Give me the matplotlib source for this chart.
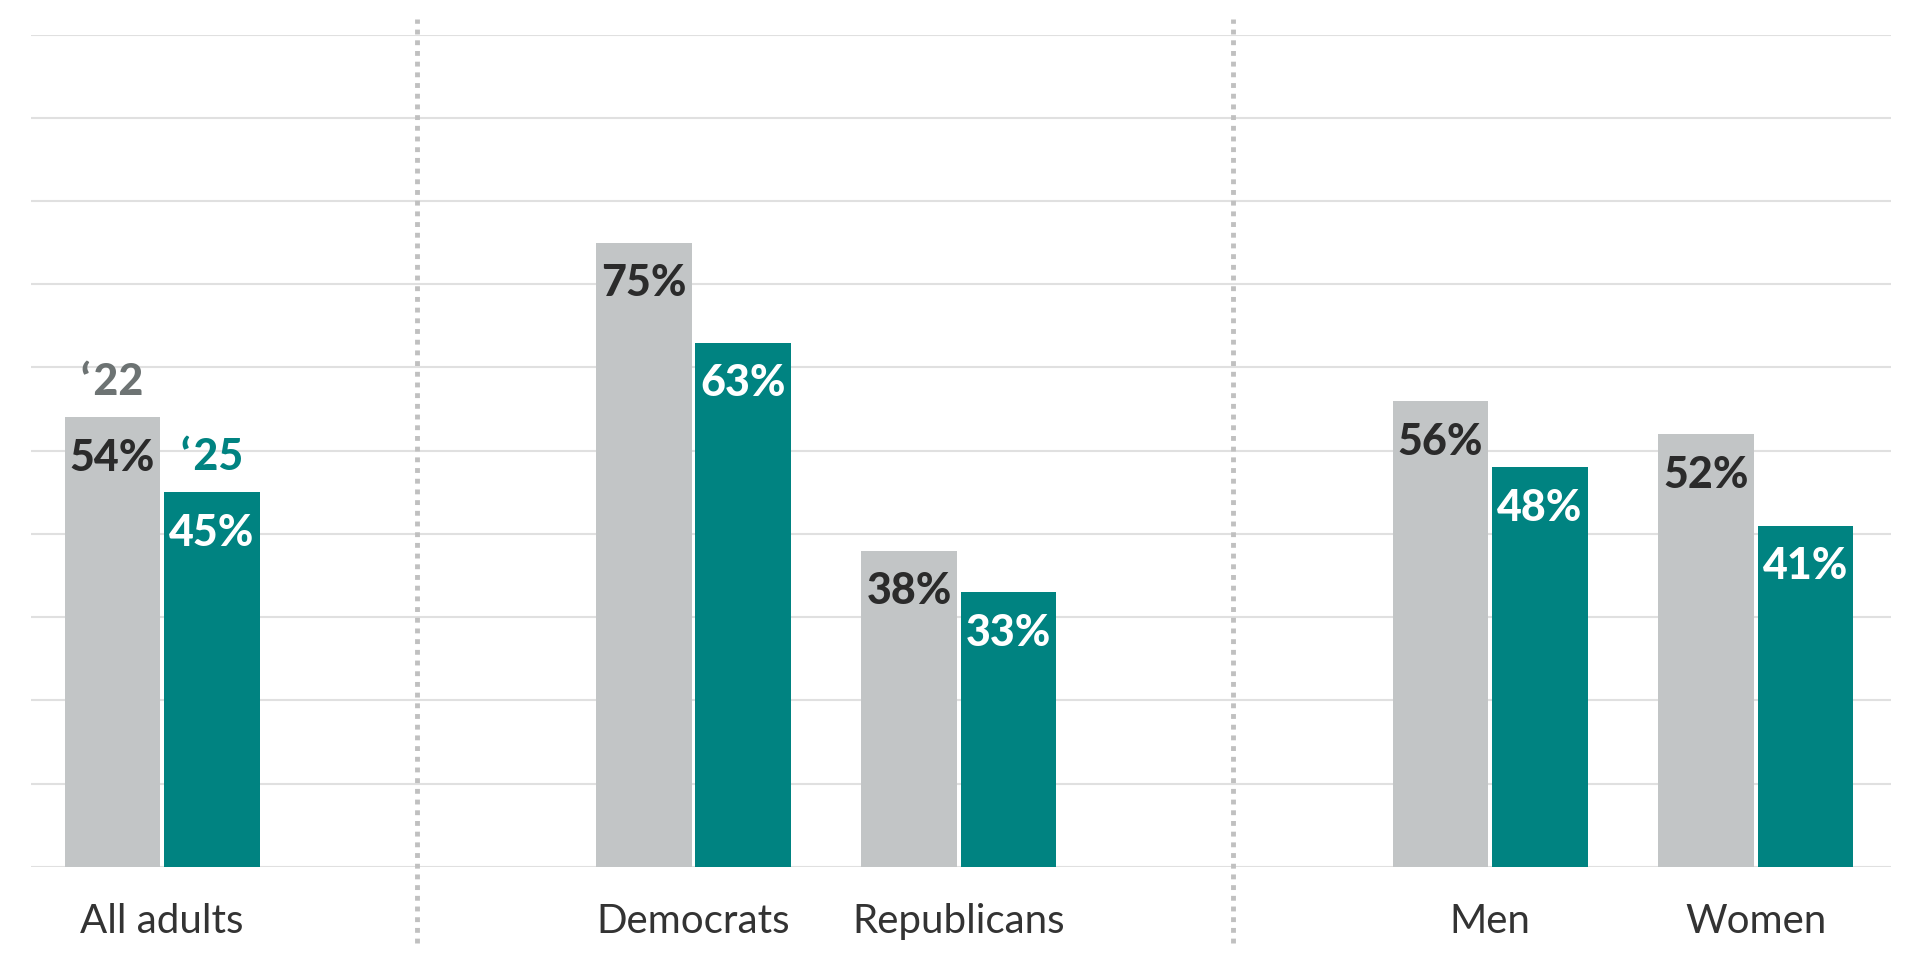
import numpy as np
import matplotlib.pyplot as plt

# Dados
grupos = ["All adults", "Democrats", "Republicans", "Men", "Women"]
posicoes = [0, 2, 3, 5, 6]
valores_22 = [54, 75, 38, 56, 52]
valores_25 = [45, 63, 33, 48, 41]
divisores = [0.96, 4.03]

cor_cinza = "#c2c5c6"
cor_teal = "#008381"

plt.rcParams["font.family"] = ["Lato", "DejaVu Sans"]

fig = plt.figure(figsize=(19.2, 9.6), dpi=100)
ax = fig.add_axes([0.016, 0.097, 0.969, 0.867])

x = np.array(posicoes)
largura = 0.36
desloc = 0.187

ax.bar(x - desloc, valores_22, width=largura, color=cor_cinza, zorder=2)
ax.bar(x + desloc, valores_25, width=largura, color=cor_teal, zorder=2)

# rótulos de valores
for xi, v in zip(x, valores_22):
    ax.text(xi - desloc, v - 2.5, f"{v}%", ha="center", va="top", fontsize=31,
            fontweight="black", color="#2b2b2b", zorder=3)
for xi, v in zip(x, valores_25):
    ax.text(xi + desloc, v - 2.5, f"{v}%", ha="center", va="top", fontsize=31,
            fontweight="black", color="white", zorder=3)

# legenda dos anos
ax.text(x[0] - desloc, valores_22[0] + 1.9, "\u2018\u200a22", ha="center", va="bottom",
        fontsize=31, fontweight="black", color="#6d7373")
ax.text(x[0] + desloc, valores_25[0] + 1.9, "\u2018\u200a25", ha="center", va="bottom",
        fontsize=31, fontweight="black", color=cor_teal)

# grade
ax.set_ylim(0, 100)
ax.set_xlim(-0.495, 6.51)
ax.set_yticks(np.arange(0, 101, 10))
ax.yaxis.grid(True, color="#e0e0e0", linewidth=1.5, zorder=0)
ax.set_axisbelow(True)
ax.tick_params(axis="both", length=0)
ax.set_yticklabels([])

ax.set_xticks(x)
ax.set_xticklabels(grupos, fontsize=29, color="#333333")
ax.tick_params(axis="x", pad=26)

for s in ax.spines.values():
    s.set_visible(False)

# divisores pontilhados
for d in divisores:
    ax.axvline(d, ymin=-0.091, ymax=1.019, color="#c0c0c0", linewidth=3.5,
               linestyle=(0, (1, 1.2)), clip_on=False, zorder=1)

plt.savefig("out.png", dpi=100)
